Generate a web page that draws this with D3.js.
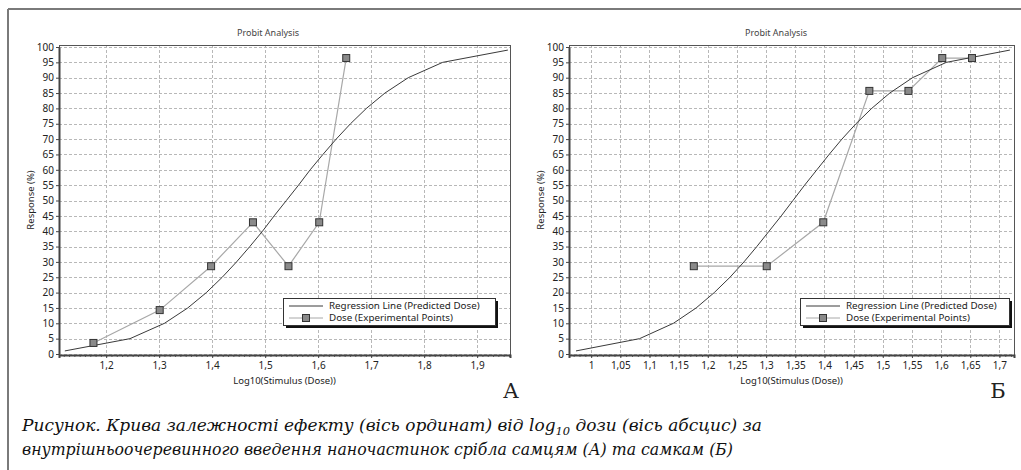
<!DOCTYPE html>
<html>
<head>
<meta charset="utf-8">
<script src="https://d3js.org/d3.v7.min.js"></script>
<style>
  body { margin: 0; background: white; }
</style>
</head>
<body>
<script>
  // probit levels used for the regression polyline
  const responseLevels = [1, 5, 10, 15, 20, 25, 30, 35, 40, 45, 50, 55, 60, 65, 70, 75, 80, 85, 90, 95, 99];
  // log10 dose
  const regressionA = [1.122, 1.245, 1.310, 1.354, 1.389, 1.419, 1.446, 1.471, 1.495, 1.517, 1.540,
                       1.563, 1.585, 1.609, 1.634, 1.661, 1.691, 1.726, 1.770, 1.835, 1.958];
  const regressionB = [0.974, 1.083, 1.141, 1.180, 1.211, 1.238, 1.262, 1.284, 1.305, 1.326, 1.346,
                       1.366, 1.387, 1.408, 1.430, 1.454, 1.481, 1.512, 1.551, 1.609, 1.718];

  // experimental points
  const doseLog = [1.176, 1.301, 1.398, 1.477, 1.544, 1.602, 1.653];
  const responseA = [3.6, 14.3, 28.6, 42.9, 28.6, 42.9, 96.4];
  const responseB = [28.6, 28.6, 42.9, 85.7, 85.7, 96.4, 96.4];

  const xTicksA = [1.2, 1.3, 1.4, 1.5, 1.6, 1.7, 1.8, 1.9];
  const xTicksB = [1, 1.05, 1.1, 1.15, 1.2, 1.25, 1.3, 1.35, 1.4, 1.45, 1.5, 1.55, 1.6, 1.65, 1.7];
  const yTicks = [0, 5, 10, 15, 20, 25, 30, 35, 40, 45, 50, 55, 60, 65, 70, 75, 80, 85, 90, 95, 100];
  const xDomainA = [1.111, 1.962];
  const xDomainB = [0.962, 1.725];

  const legendLabels = ["Regression Line (Predicted Dose)", "Dose (Experimental Points)"];

  const W = 1021, H = 470;
  const svg = d3.select("body").append("svg")
    .attr("width", W)
    .attr("height", H)
    .style("display", "block");

  svg.append("rect").attr("width", W).attr("height", H).attr("fill", "white");

  // outer frame
  svg.append("line")
    .attr("x1", 8).attr("x2", W).attr("y1", 9).attr("y2", 9)
    .attr("stroke", "#7a7a7a").attr("stroke-width", 2);
  svg.append("line")
    .attr("x1", 8).attr("x2", 8).attr("y1", 9).attr("y2", H)
    .attr("stroke", "#7a7a7a").attr("stroke-width", 2);

  const fmt = d => String(d).replace(".", ",");
  const font = "'Noto Sans', 'DejaVu Sans', sans-serif";

  function drawPanel(p) {
    const x = d3.scaleLinear().domain(p.xDomain).range([p.left, p.right]);
    const y = d3.scaleLinear().domain([0, 100]).range([354, 47]);
    const g = svg.append("g");

    // plot background
    g.append("rect")
      .attr("x", p.left).attr("y", 45)
      .attr("width", p.right - p.left).attr("height", 355 - 45)
      .attr("fill", "white");

    // grid
    g.append("g").selectAll("line").data(yTicks).join("line")
      .attr("x1", p.left).attr("x2", p.right)
      .attr("y1", d => Math.round(y(d)) + 0.5).attr("y2", d => Math.round(y(d)) + 0.5)
      .attr("stroke", "#b8b8b8").attr("stroke-dasharray", "3,2");
    g.append("g").selectAll("line").data(p.xTicks).join("line")
      .attr("x1", d => Math.round(x(d)) + 0.5).attr("x2", d => Math.round(x(d)) + 0.5)
      .attr("y1", 45).attr("y2", 355)
      .attr("stroke", "#b8b8b8").attr("stroke-dasharray", "3,2");

    // frame
    g.append("rect")
      .attr("x", p.left + 0.5).attr("y", 45.5)
      .attr("width", p.right - p.left).attr("height", 355 - 45)
      .attr("fill", "none").attr("stroke", "#555");

    // axes
    const xAxis = d3.axisBottom(x).tickValues(p.xTicks).tickFormat(fmt).tickSize(3).tickPadding(4);
    const minorX = d3.range(Math.ceil(p.xDomain[0] * 100), Math.floor(p.xDomain[1] * 100) + 1).map(d => d / 100);
    g.append("g")
      .attr("transform", "translate(0,355)")
      .call(d3.axisBottom(x).tickValues(minorX).tickFormat("").tickSize(2).tickSizeOuter(0))
      .call(a => a.select(".domain").remove())
      .call(a => a.selectAll("line").attr("stroke", "#666"));
    g.append("g")
      .attr("transform", "translate(0,355)")
      .call(xAxis)
      .call(a => a.select(".domain").attr("stroke", "#444").attr("stroke-width", 2))
      .call(a => a.selectAll("line").attr("stroke", "#444"))
      .call(a => a.selectAll("text").attr("font-family", font).attr("font-size", 10).attr("fill", "#222"));

    const yAxis = d3.axisLeft(y).tickValues(yTicks).tickSize(3).tickPadding(2).tickSizeOuter(0);
    g.append("g")
      .attr("transform", `translate(${p.left},0)`)
      .call(yAxis)
      .call(a => a.select(".domain").attr("stroke", "#444").attr("stroke-width", 2))
      .call(a => a.selectAll("line").attr("stroke", "#444"))
      .call(a => a.selectAll("text").attr("font-family", font).attr("font-size", 10).attr("fill", "#222"));

    // titles
    svg.append("text")
      .attr("x", p.titleX).attr("y", 36)
      .attr("text-anchor", "middle")
      .attr("font-family", font).attr("font-size", 9)
      .attr("fill", "#444")
      .text("Probit Analysis");
    svg.append("text")
      .attr("x", (p.left + p.right) / 2).attr("y", 384)
      .attr("text-anchor", "middle")
      .attr("font-family", font).attr("font-size", 9.5)
      .attr("fill", "#222")
      .text("Log10(Stimulus (Dose))");
    svg.append("text")
      .attr("transform", `translate(${p.left - 25},200) rotate(-90)`)
      .attr("text-anchor", "middle")
      .attr("font-family", font).attr("font-size", 9.5)
      .attr("fill", "#222")
      .text("Response (%)");

    // experimental line + regression line
    const pts = doseLog.map((d, i) => [d, p.response[i]]);
    const reg = responseLevels.map((r, i) => [p.regression[i], r]);
    const line = d3.line().x(d => x(d[0])).y(d => y(d[1]));

    g.append("path")
      .attr("d", line(pts))
      .attr("fill", "none").attr("stroke", "#a8a8a8").attr("stroke-width", 1.2);
    g.append("path")
      .attr("d", line(reg))
      .attr("fill", "none").attr("stroke", "#3a3a3a").attr("stroke-width", 1);
    g.append("g").selectAll("rect").data(pts).join("rect")
      .attr("x", d => x(d[0]) - 3.5).attr("y", d => y(d[1]) - 3.5)
      .attr("width", 7).attr("height", 7)
      .attr("fill", "#8a8a8a").attr("stroke", "#333").attr("stroke-width", 1);

    // legend
    const lx = p.legendX, ly = 298, lw = p.legendW, lh = 27;
    svg.append("rect")
      .attr("x", lx + 3).attr("y", ly + 3).attr("width", lw).attr("height", lh)
      .attr("fill", "#111");
    svg.append("rect")
      .attr("x", lx + 0.5).attr("y", ly + 0.5).attr("width", lw).attr("height", lh)
      .attr("fill", "white").attr("stroke", "#333");
    const rows = [ly + 7.5, ly + 19.5];
    svg.append("line")
      .attr("x1", lx + 6).attr("x2", lx + 40).attr("y1", rows[0] + 0.5).attr("y2", rows[0] + 0.5)
      .attr("stroke", "#3a3a3a");
    svg.append("line")
      .attr("x1", lx + 6).attr("x2", lx + 40).attr("y1", rows[1] + 0.5).attr("y2", rows[1] + 0.5)
      .attr("stroke", "#a8a8a8");
    svg.append("rect")
      .attr("x", lx + 19.5).attr("y", rows[1] - 3).attr("width", 7).attr("height", 7)
      .attr("fill", "#8a8a8a").attr("stroke", "#333");
    svg.selectAll(null).data(legendLabels).enter().append("text")
      .attr("x", lx + 46).attr("y", (d, i) => rows[i] + 3.5)
      .attr("font-family", font).attr("font-size", 9.8)
      .attr("fill", "#222")
      .text(d => d);

    // panel letter
    svg.append("text")
      .attr("x", p.letterX).attr("y", 398)
      .attr("text-anchor", "middle")
      .attr("font-family", "'DejaVu Serif', serif").attr("font-size", 21)
      .attr("fill", "#222")
      .text(p.letter);
  }

  drawPanel({ left: 59, right: 510, xDomain: xDomainA, xTicks: xTicksA,
              response: responseA, regression: regressionA,
              titleX: 268, legendX: 283, legendW: 212, letterX: 511, letter: "А" });
  drawPanel({ left: 569, right: 1014, xDomain: xDomainB, xTicks: xTicksB,
              response: responseB, regression: regressionB,
              titleX: 776, legendX: 800, legendW: 209, letterX: 998, letter: "Б" });

  // caption, two lines fitted to the reference widths
  const capStyle = t => t
    .attr("font-family", "'DejaVu Serif', serif")
    .attr("font-style", "italic")
    .attr("font-size", 16.4)
    .attr("fill", "#111")
    .attr("lengthAdjust", "spacingAndGlyphs");
  const l1 = svg.append("text").call(capStyle)
    .attr("x", 22).attr("y", 431).attr("textLength", 740);
  l1.append("tspan").text("Рисунок. Крива залежності ефекту (вісь ординат) від log");
  l1.append("tspan").attr("dy", 4).attr("font-size", 11).text("10");
  l1.append("tspan").attr("dy", -4).text(" дози (вісь абсцис) за");
  svg.append("text").call(capStyle)
    .attr("x", 22).attr("y", 455).attr("textLength", 711)
    .text("внутрішньоочеревинного введення наночастинок срібла самцям (А) та самкам (Б)");
</script>
</body>
</html>
